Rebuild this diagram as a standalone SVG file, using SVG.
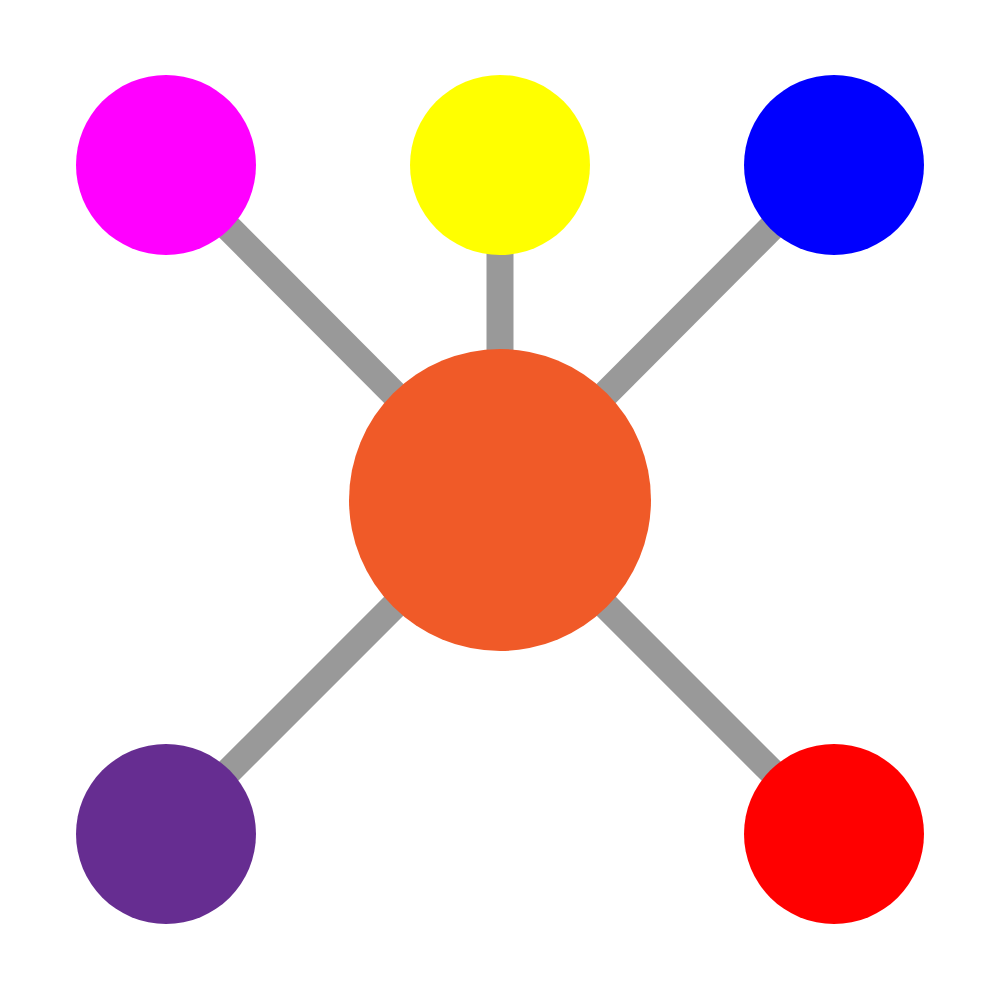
<svg xmlns="http://www.w3.org/2000/svg" width="1000" height="1000" viewBox="0 0 1000 1000">
<style>
.link{stroke:#999999;stroke-width:27;fill:none}
</style>
<rect width="1000" height="1000" fill="#ffffff"/>
<g id="connectors">
<line class="link" x1="166" y1="165" x2="500" y2="500"/>
<line class="link" x1="500" y1="165" x2="500" y2="500"/>
<line class="link" x1="834" y1="165" x2="500" y2="500"/>
<line class="link" x1="166" y1="834" x2="500" y2="500"/>
<line class="link" x1="834" y1="834" x2="500" y2="500"/>
</g>
<g id="node-center"><circle cx="500" cy="500" r="151" fill="#F05A28"/></g>
<g id="node-magenta"><circle cx="166" cy="165" r="90" fill="#FF00FF"/></g>
<g id="node-yellow"><circle cx="500" cy="165" r="90" fill="#FFFF00"/></g>
<g id="node-blue"><circle cx="834" cy="165" r="90" fill="#0000FF"/></g>
<g id="node-purple"><circle cx="166" cy="834" r="90" fill="#662D91"/></g>
<g id="node-red"><circle cx="834" cy="834" r="90" fill="#FF0000"/></g>
</svg>
